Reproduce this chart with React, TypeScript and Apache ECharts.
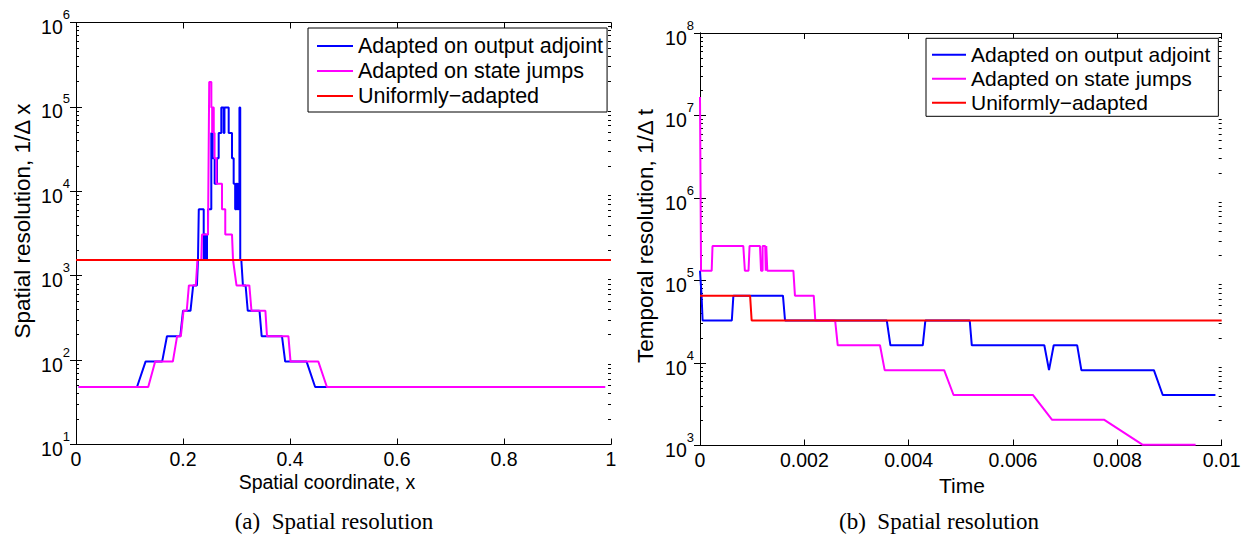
import React, { useEffect, useRef } from 'react';
import * as echarts from 'echarts';

const SERIES_NAMES = ['Adapted on output adjoint', 'Adapted on state jumps', 'Uniformly\u2212adapted'];
const SERIES_COLORS = ['#0000ff', '#ff00ff', '#ff0000'];

// (a) spatial coordinate x, spatial resolution 1/dx
const spatialAdjoint: [number, number][] = [
  [0.005, 48], [0.114, 48], [0.130, 96], [0.161, 96], [0.170, 192], [0.195, 192], [0.200, 384],
  [0.214, 384], [0.219, 768], [0.226, 768], [0.228, 1536], [0.2295, 6144], [0.2387, 6144],
  [0.2387, 1536], [0.2405, 1536], [0.2405, 3072], [0.243, 3072], [0.243, 1536], [0.2449, 1536],
  [0.2449, 3072], [0.2467, 3072], [0.2467, 6144], [0.2529, 6144], [0.2529, 49152], [0.2555, 49152],
  [0.2555, 24576], [0.2592, 24576], [0.2592, 12288], [0.2636, 12288], [0.2636, 24576], [0.2667, 24576],
  [0.2667, 49152], [0.2716, 49152], [0.2716, 98304], [0.276, 98304], [0.276, 49152], [0.2775, 49152],
  [0.2775, 98304], [0.2854, 98304], [0.2854, 49152], [0.2916, 49152], [0.2916, 24576], [0.2947, 24576],
  [0.2947, 12288], [0.2975, 12288], [0.2975, 6144], [0.300, 6144], [0.300, 12288], [0.302, 12288],
  [0.302, 6144], [0.304, 6144], [0.304, 12288], [0.3055, 12288], [0.3055, 98304], [0.307, 98304],
  [0.307, 1536], [0.309, 1536], [0.312, 768], [0.317, 768], [0.321, 384], [0.343, 384], [0.347, 192],
  [0.385, 192], [0.391, 96], [0.431, 96], [0.447, 48], [0.989, 48],
];
const spatialJumps: [number, number][] = [
  [0.005, 48], [0.135, 48], [0.148, 96], [0.181, 96], [0.189, 192], [0.196, 192], [0.201, 384],
  [0.207, 384], [0.211, 768], [0.224, 768], [0.227, 1536], [0.2342, 1536], [0.2355, 3072],
  [0.2467, 3072], [0.249, 196608], [0.253, 196608], [0.253, 98304], [0.2545, 98304], [0.2545, 49152],
  [0.2555, 49152], [0.2555, 98304], [0.2575, 98304], [0.2575, 49152], [0.259, 49152], [0.259, 24576],
  [0.2625, 24576], [0.2625, 12288], [0.2729, 12288], [0.2729, 6144], [0.279, 6144], [0.279, 3072],
  [0.2916, 3072], [0.2935, 1536], [0.300, 768], [0.324, 768], [0.328, 384], [0.354, 384], [0.357, 192],
  [0.397, 192], [0.401, 96], [0.453, 96], [0.469, 48], [0.989, 48],
];
const spatialUniform: [number, number][] = [[0, 1536], [1, 1536]];

// (b) time, temporal resolution 1/dt
const temporalAdjoint: [number, number][] = [
  [0, 131072], [0.00003, 65536], [0.00005, 32768], [0.00061, 32768], [0.00064, 65536], [0.00159, 65536],
  [0.00163, 32768], [0.00358, 32768], [0.00365, 16384], [0.00427, 16384], [0.00432, 32768],
  [0.00517, 32768], [0.00521, 16384], [0.0066, 16384], [0.00669, 8192], [0.00678, 16384],
  [0.00723, 16384], [0.00731, 8192], [0.0087, 8192], [0.00887, 4096], [0.00988, 4096],
];
const temporalJumps: [number, number][] = [
  [0, 16777216], [0.00002, 131072], [0.000224, 131072], [0.00024, 262144], [0.00083, 262144],
  [0.00086, 131072], [0.00093, 131072], [0.00095, 262144], [0.00115, 262144], [0.00117, 131072],
  [0.0012, 131072], [0.0012, 262144], [0.00125, 262144], [0.00126, 131072], [0.00127, 262144],
  [0.00128, 262144], [0.00129, 131072], [0.00179, 131072], [0.00182, 65536], [0.00218, 65536],
  [0.00221, 32768], [0.00259, 32768], [0.00264, 16384], [0.00345, 16384], [0.00354, 8192],
  [0.00468, 8192], [0.00486, 4096], [0.00638, 4096], [0.00675, 2048], [0.00775, 2048],
  [0.00848, 1024], [0.0095, 1024],
];
const temporalUniform: [number, number][] = [[0, 65536], [0.00096, 65536], [0.00099, 32768], [0.01, 32768]];

const panelTitles = ['(a)  Spatial resolution', '(b)  Spatial resolution'];
const axisTitles = {
  aX: 'Spatial coordinate, x',
  aY: 'Spatial resolution, 1/\u0394 x',
  bX: 'Time',
  bY: 'Temporal resolution, 1/\u0394 t',
};

const FONT = '"Liberation Sans", Arial, Helvetica, sans-serif';
const SERIF = '"Liberation Serif", "Times New Roman", serif';

function minorLogTicks(lo: number, hi: number): number[] {
  const out: number[] = [];
  for (let e = lo; e < hi; e++) {
    for (let k = 2; k <= 9; k++) out.push(e + Math.log10(k));
  }
  return out;
}

const powLabel = (v: number) => `{b|10}{s|${Math.round(Math.log10(v))}}`;
const powRich = {
  b: { fontSize: 19.5, fontFamily: FONT, color: '#000', verticalAlign: 'bottom' },
  s: { fontSize: 13, fontFamily: FONT, color: '#000', verticalAlign: 'top', padding: [0, 0, 16, 0] },
};

function xAxes(gridIndex: number, max: number, interval: number, fmt: (v: number) => string) {
  const base = {
    type: 'value', gridIndex, min: 0, max, interval,
    axisLine: { show: true, lineStyle: { color: '#000', width: 1 } },
    axisTick: { show: true, inside: true, length: 6, lineStyle: { color: '#000' } },
    splitLine: { show: false },
  };
  return [
    { ...base, position: 'bottom', axisLabel: { show: true, formatter: fmt, fontSize: 19.5, fontFamily: FONT, color: '#000', margin: 4 } },
    { ...base, position: 'top', axisLabel: { show: false } },
  ];
}

function yAxes(gridIndex: number, min: number, max: number) {
  const base = {
    type: 'log', logBase: 10, gridIndex, min, max,
    axisLine: { show: true, lineStyle: { color: '#000', width: 1 } },
    axisTick: { show: true, inside: true, length: 6, lineStyle: { color: '#000' } },
    splitLine: { show: false },
    minorTick: { show: false },
  };
  const lo = Math.round(Math.log10(min));
  const hi = Math.round(Math.log10(max));
  const minor = {
    type: 'value', gridIndex, min: lo, max: hi,
    axisLine: { show: false },
    axisLabel: { show: false },
    splitLine: { show: false },
    axisTick: { show: true, inside: true, length: 3, lineStyle: { color: '#000' }, customValues: minorLogTicks(lo, hi) },
  };
  return [
    { ...base, position: 'left', axisLabel: { show: true, formatter: powLabel, rich: powRich, margin: 6 } },
    { ...base, position: 'right', axisLabel: { show: false } },
    { ...minor, position: 'left' },
    { ...minor, position: 'right' },
  ];
}

function lineSeries(name: string, color: string, data: [number, number][], xi: number, yi: number) {
  return {
    type: 'line', name, data, xAxisIndex: xi, yAxisIndex: yi,
    symbol: 'none', showSymbol: false, clip: true,
    lineStyle: { color, width: 2 }, itemStyle: { color },
    emphasis: { disabled: true },
  };
}

function legendAt(left: number, top: number, fontSize: number, itemWidth: number, padding: number[]) {
  return {
    orient: 'vertical', left, top, data: SERIES_NAMES,
    icon: 'rect', itemWidth, itemHeight: 2, itemGap: 3, padding,
    borderColor: '#000', borderWidth: 1, borderRadius: 0, backgroundColor: '#fff',
    selectedMode: false,
    textStyle: { fontSize, fontFamily: FONT, color: '#000' },
  };
}

function text(t: string, x: number, y: number, size: number, family: string, rotate = 0) {
  return {
    type: 'text', x, y, rotation: rotate,
    style: {
      text: t, fill: '#000', fontSize: size, fontFamily: family,
      align: 'center', verticalAlign: 'middle', textAlign: 'center', textVerticalAlign: 'middle',
    },
  };
}

export default function App() {
  const ref = useRef<HTMLDivElement>(null);
  useEffect(() => {
    if (!ref.current) return;
    const chart = echarts.init(ref.current, null, { renderer: 'svg' });
    const option = {
      animation: false,
      backgroundColor: '#fff',
      grid: [
        { left: 76, top: 22.5, width: 535, height: 422 },
        { left: 700, top: 33, width: 521.7, height: 412.5 },
      ],
      xAxis: [
        ...xAxes(0, 1, 0.2, (v: number) => String(+v.toFixed(1))),
        ...xAxes(1, 0.01, 0.002, (v: number) => String(+v.toFixed(3))),
      ],
      yAxis: [...yAxes(0, 10, 1e6), ...yAxes(1, 1e3, 1e8)],
      legend: [
        legendAt(308, 28, 21.5, 36, [7, 4, 5, 9]),
        legendAt(926, 38.3, 21, 34, [6, 8, 3, 6]),
      ],
      series: [
        lineSeries(SERIES_NAMES[0], SERIES_COLORS[0], spatialAdjoint, 0, 0),
        lineSeries(SERIES_NAMES[1], SERIES_COLORS[1], spatialJumps, 0, 0),
        lineSeries(SERIES_NAMES[2], SERIES_COLORS[2], spatialUniform, 0, 0),
        lineSeries(SERIES_NAMES[0], SERIES_COLORS[0], temporalAdjoint, 2, 4),
        lineSeries(SERIES_NAMES[1], SERIES_COLORS[1], temporalJumps, 2, 4),
        lineSeries(SERIES_NAMES[2], SERIES_COLORS[2], temporalUniform, 2, 4),
      ],
      graphic: [
        text(axisTitles.aY, 22, 221, 22.5, FONT, Math.PI / 2),
        text(axisTitles.aX, 327, 482, 19.5, FONT),
        text(axisTitles.bY, 645, 236, 22.5, FONT, Math.PI / 2),
        text(axisTitles.bX, 962, 485, 21, FONT),
        text(panelTitles[0], 334, 521, 23, SERIF),
        text(panelTitles[1], 939, 521, 23, SERIF),
      ],
    };
    chart.setOption(option as any);
    return () => chart.dispose();
  }, []);
  return (
    <div
      ref={ref}
      style={{ position: 'fixed', left: 0, top: 0, width: 1247, height: 542, background: '#fff' }}
    />
  );
}
